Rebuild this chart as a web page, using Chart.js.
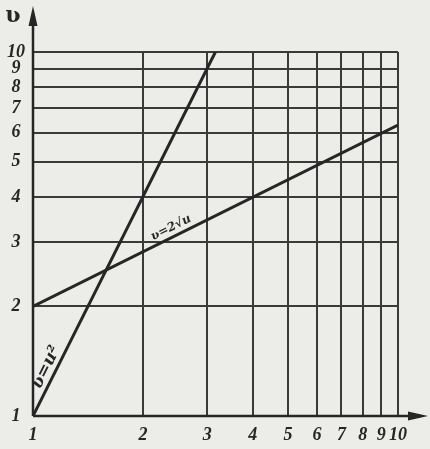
<!DOCTYPE html>
<html>
<head>
<meta charset="utf-8">
<script src="https://cdn.jsdelivr.net/npm/chart.js@4/dist/chart.umd.min.js"></script>
<style>
  html, body { margin: 0; padding: 0; background: #ecece9; }
  #wrap { width: 430px; height: 449px; position: relative; }
</style>
</head>
<body>
<div id="wrap"><canvas id="c"></canvas></div>
<script>
// ---- data ----
const xTickValues = [1, 2, 3, 4, 5, 6, 7, 8, 9, 10];
const yTickValues = [1, 2, 3, 4, 5, 6, 7, 8, 9, 10];
const squareU = [1, 3.16];
const squareV = [1, 10];
const rootU = [1, 10];
const rootV = [2, 6.3];
const squareLabel = 'ʋ=u²';
const rootLabel = 'ʋ=2√u';
const axisLabel = 'ʋ';

const ink = '#262626';
const gridInk = '#3a3a3a';
const tickFont = { family: "'Liberation Serif', 'DejaVu Serif', serif", size: 18, style: 'italic', weight: 'bold' };

const toPts = (xs, ys) => xs.map((x, i) => ({ x: x, y: ys[i] }));

const decor = {
  id: 'decor',
  afterDatasetsDraw(chart) {
    const { ctx, scales: { x, y } } = chart;
    const x0 = x.getPixelForValue(1), y0 = y.getPixelForValue(1);
    ctx.save();
    ctx.strokeStyle = ink; ctx.fillStyle = ink; ctx.lineWidth = 2.5;
    // axes extended with arrows
    ctx.beginPath(); ctx.moveTo(x0, y0); ctx.lineTo(x0, 14); ctx.stroke();
    ctx.beginPath(); ctx.moveTo(x0, 6); ctx.lineTo(x0 - 4.5, 26); ctx.lineTo(x0 + 4.5, 26); ctx.closePath(); ctx.fill();
    ctx.beginPath(); ctx.moveTo(x0, y0); ctx.lineTo(420, y0); ctx.stroke();
    ctx.beginPath(); ctx.moveTo(428, y0); ctx.lineTo(408, y0 - 4.5); ctx.lineTo(408, y0 + 4.5); ctx.closePath(); ctx.fill();
    // axis name
    ctx.font = "bold 22px 'DejaVu Serif', serif";
    ctx.textAlign = 'center'; ctx.textBaseline = 'middle';
    ctx.fillText(axisLabel, 13, 16);
    // line labels placed along the lines
    const place = (u, xs, ys, text, off, size) => {
      const p1 = { x: x.getPixelForValue(xs[0]), y: y.getPixelForValue(ys[0]) };
      const p2 = { x: x.getPixelForValue(xs[1]), y: y.getPixelForValue(ys[1]) };
      const ang = Math.atan2(p2.y - p1.y, p2.x - p1.x);
      const t = (x.getPixelForValue(u) - p1.x) / (p2.x - p1.x);
      const px = p1.x + t * (p2.x - p1.x), py = p1.y + t * (p2.y - p1.y);
      const nx = Math.sin(ang), ny = -Math.cos(ang);
      ctx.save();
      ctx.translate(px + nx * off, py + ny * off);
      ctx.rotate(ang);
      ctx.font = "bold italic " + size + "px 'DejaVu Serif', serif";
      ctx.textAlign = 'center'; ctx.textBaseline = 'middle';
      ctx.fillText(text, 0, 0);
      ctx.restore();
    };
    place(1.15, squareU, squareV, squareLabel, 10, 17);
    place(2.45, rootU, rootV, rootLabel, 9, 12);
    ctx.restore();
  }
};

new Chart(document.getElementById('c'), {
  type: 'scatter',
  data: {
    datasets: [
      { data: toPts(squareU, squareV), showLine: true, borderColor: ink, borderWidth: 3, pointRadius: 0 },
      { data: toPts(rootU, rootV), showLine: true, borderColor: ink, borderWidth: 3, pointRadius: 0 }
    ]
  },
  options: {
    responsive: true,
    maintainAspectRatio: false,
    animation: false,
    layout: { padding: { left: 0, top: 52, right: 32, bottom: 0 } },
    plugins: { legend: { display: false }, tooltip: { enabled: false } },
    scales: {
      x: {
        type: 'logarithmic', min: 1, max: 10,
        afterBuildTicks: s => { s.ticks = xTickValues.map(v => ({ value: v })); },
        afterFit: s => { s.height = 33; },
        border: { display: false },
        grid: { color: gridInk, lineWidth: 2, drawTicks: false },
        ticks: { color: ink, font: tickFont, padding: 9, autoSkip: false, maxRotation: 0, callback: v => String(v) }
      },
      y: {
        type: 'logarithmic', min: 1, max: 10,
        afterBuildTicks: s => { s.ticks = yTickValues.map(v => ({ value: v })); },
        afterFit: s => { s.width = 33; },
        border: { display: false },
        grid: { color: gridInk, lineWidth: 2, drawTicks: false },
        ticks: { color: ink, font: tickFont, padding: 8, autoSkip: false, crossAlign: 'center', callback: v => String(v) }
      }
    }
  },
  plugins: [decor]
});
</script>
</body>
</html>
